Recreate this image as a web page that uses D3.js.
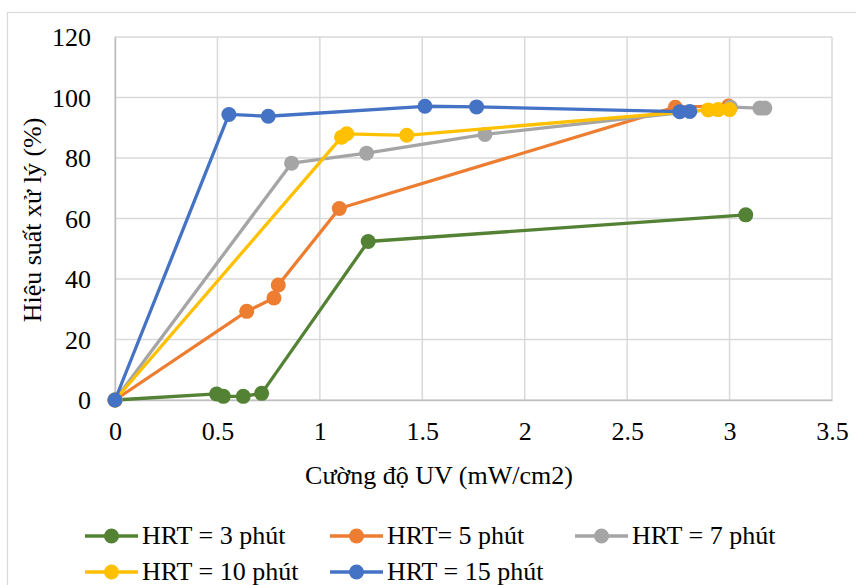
<!DOCTYPE html>
<html>
<head>
<meta charset="utf-8">
<title>Hiệu suất xử lý</title>
<script src="https://d3js.org/d3.v7.min.js"></script>
<style>
  body { margin: 0; background: #fff; }
  text { font-family: "Liberation Serif", "Times New Roman", serif; fill: #000; }
</style>
</head>
<body>
<svg width="856" height="585"></svg>
<script>
// data
var seriesNames = ['HRT = 3 phút', 'HRT= 5 phút', 'HRT = 7 phút', 'HRT = 10 phút', 'HRT = 15 phút'];
var seriesColors = ['#548235', '#ED7D31', '#A5A5A5', '#FFC000', '#4472C4'];

var uv3 = [0, 0.496, 0.529, 0.626, 0.716, 1.236, 3.079];
var eff3 = [0, 2.0, 1.2, 1.2, 2.2, 52.4, 61.2];

var uv5 = [0, 0.643, 0.776, 0.797, 1.095, 2.735, 2.995];
var eff5 = [0, 29.3, 33.7, 38.0, 63.3, 96.8, 97.2];

var uv7 = [0, 0.862, 1.228, 1.806, 3.005, 3.148, 3.172];
var eff7 = [0, 78.3, 81.6, 87.8, 96.8, 96.5, 96.5];

var uv10 = [0, 1.106, 1.131, 1.424, 2.896, 2.944, 3.0];
var eff10 = [0, 86.9, 88.0, 87.5, 95.9, 96.0, 96.0];

var uv15 = [0, 0.556, 0.748, 1.513, 1.765, 2.757, 2.806];
var eff15 = [0, 94.4, 93.8, 97.1, 96.9, 95.3, 95.4];

var xTicks = [0, 0.5, 1, 1.5, 2, 2.5, 3, 3.5];
var yTicks = [0, 20, 40, 60, 80, 100, 120];

var allX = [uv3, uv5, uv7, uv10, uv15];
var allY = [eff3, eff5, eff7, eff10, eff15];

var svg = d3.select('svg');

// outer chart frame (runs off the right and bottom edge)
svg.append('rect')
  .attr('x', 7.5).attr('y', 12.5)
  .attr('width', 900).attr('height', 700)
  .attr('fill', 'none').attr('stroke', '#d9d9d9').attr('stroke-width', 1.2);

var plotLeft = 115, plotRight = 832, plotTop = 37, plotBottom = 400;

var x = d3.scaleLinear().domain([0, 3.5]).range([plotLeft, plotRight]);
var y = d3.scaleLinear().domain([0, 120]).range([plotBottom, plotTop]);

// gridlines
svg.append('g').selectAll('line')
  .data(yTicks)
  .enter().append('line')
  .attr('x1', plotLeft).attr('x2', plotRight)
  .attr('y1', function(d) { return y(d); })
  .attr('y2', function(d) { return y(d); })
  .attr('stroke', '#d9d9d9').attr('stroke-width', 1.5);

svg.append('g').selectAll('line')
  .data(xTicks)
  .enter().append('line')
  .attr('y1', plotTop).attr('y2', plotBottom)
  .attr('x1', function(d) { return x(d); })
  .attr('x2', function(d) { return x(d); })
  .attr('stroke', '#d9d9d9').attr('stroke-width', 1.5);

// axes
var yAxis = svg.append('g')
  .attr('transform', 'translate(' + plotLeft + ',0)')
  .call(d3.axisLeft(y).tickValues(yTicks).tickSize(0).tickPadding(24));
yAxis.select('.domain').attr('stroke', '#bfbfbf').attr('stroke-width', 1.5);
yAxis.selectAll('text').style('font-size', '26px')
  .style('font-family', '"Liberation Serif", serif')
  .attr('dy', '0.33em');

var xAxis = svg.append('g')
  .attr('transform', 'translate(0,' + plotBottom + ')')
  .call(d3.axisBottom(x).tickValues(xTicks).tickSize(0).tickPadding(0)
    .tickFormat(function(d) { return String(d); }));
xAxis.select('.domain').attr('stroke', '#bfbfbf').attr('stroke-width', 1.5);
xAxis.selectAll('text').style('font-size', '26px')
  .style('font-family', '"Liberation Serif", serif')
  .attr('y', 40).attr('dy', 0);

// axis titles
svg.append('text')
  .attr('x', 439).attr('y', 484)
  .attr('text-anchor', 'middle')
  .style('font-size', '26px')
  .text('Cường độ UV (mW/cm2)');

svg.append('text')
  .attr('transform', 'translate(41,220) rotate(-90)')
  .attr('text-anchor', 'middle')
  .style('font-size', '26px')
  .text('Hiệu suất xử lý (%)');

// series
var line = d3.line()
  .x(function(d) { return x(d[0]); })
  .y(function(d) { return y(d[1]); });

seriesNames.forEach(function(name, i) {
  var pts = allX[i].map(function(v, j) { return [v, allY[i][j]]; });
  var g = svg.append('g');
  g.append('path')
    .datum(pts)
    .attr('d', line)
    .attr('fill', 'none')
    .attr('stroke', seriesColors[i])
    .attr('stroke-width', 3.3)
    .attr('stroke-linejoin', 'round');
  g.selectAll('circle')
    .data(pts)
    .enter().append('circle')
    .attr('cx', function(d) { return x(d[0]); })
    .attr('cy', function(d) { return y(d[1]); })
    .attr('r', 7.5)
    .attr('fill', seriesColors[i]);
});

// legend
var legendPos = [[85, 536], [330, 536], [575, 536], [85, 572], [330, 572]];
seriesNames.forEach(function(name, i) {
  var lx = legendPos[i][0], ly = legendPos[i][1];
  var g = svg.append('g');
  g.append('line')
    .attr('x1', lx).attr('x2', lx + 53)
    .attr('y1', ly).attr('y2', ly)
    .attr('stroke', seriesColors[i]).attr('stroke-width', 3.3);
  g.append('circle')
    .attr('cx', lx + 26.5).attr('cy', ly).attr('r', 7.5)
    .attr('fill', seriesColors[i]);
  g.append('text')
    .attr('x', lx + 57).attr('y', ly + 8)
    .style('font-size', '26px')
    .text(name);
});
</script>
</body>
</html>
